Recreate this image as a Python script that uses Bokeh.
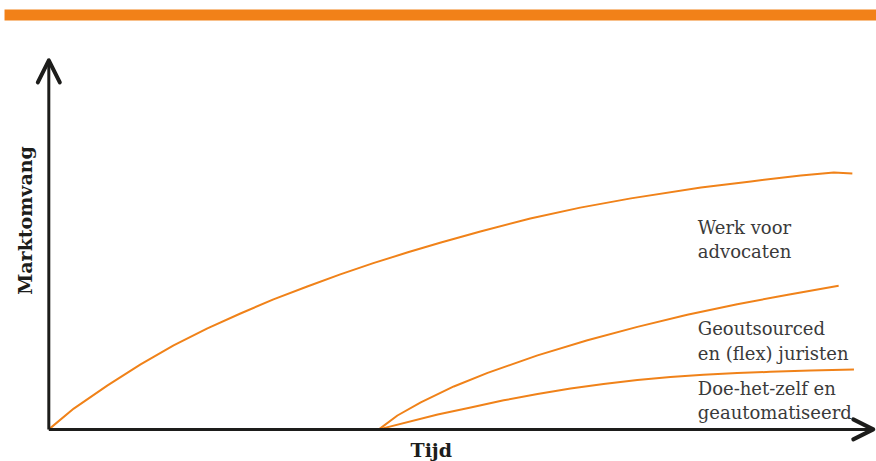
from bokeh.plotting import figure
from bokeh.models import Range1d, Arrow, OpenHead, BoxAnnotation
from bokeh.core.properties import value
from bokeh.embed import file_html
from bokeh.resources import INLINE

# Time (0-100) and market size (0-100) for each segment
werk_t = [0, 3.1, 7.3, 11.4, 15.5, 19.7, 23.8, 27.9, 32.1, 36.2, 40.3, 44.6, 48.7,
          53.6, 59.8, 66.0, 72.3, 81.0, 87.2, 93.4, 97.5, 99.8]
werk_y = [0, 8.1, 17.1, 25.3, 32.7, 39.3, 45.1, 50.6, 55.6, 60.3, 64.7, 68.9, 72.7,
          77.0, 82.1, 86.3, 89.9, 94.1, 96.5, 98.8, 100.0, 99.6]

flex_t = [41.0, 43.3, 46.2, 50.3, 54.5, 60.7, 66.9, 73.1, 79.3, 85.5, 91.8, 98.1]
flex_y = [0, 5.4, 10.5, 16.7, 22.0, 28.8, 34.7, 39.9, 44.6, 48.7, 52.4, 55.9]

dhz_t = [41.0, 48.3, 52.4, 56.5, 60.7, 64.8, 68.9, 73.1, 77.2, 81.3, 85.5, 89.6, 94.6, 100.0]
dhz_y = [0, 5.8, 8.5, 11.3, 13.8, 15.9, 17.7, 19.2, 20.4, 21.3, 21.9, 22.4, 22.9, 23.3]

label_lines = [
    ("Werk voor", 78.6), ("advocaten", 69.2),
    ("Geoutsourced", 39.3), ("en (flex) juristen", 29.6),
    ("Doe-het-zelf en", 15.9), ("geautomatiseerd", 6.6),
]
label_t = 80.6

ORANGE = "#F08219"
INK = "#1d1d1b"
TEXT = "#3a3a3a"

p = figure(width=876, height=461, output_backend="svg", toolbar_location=None,
           x_range=Range1d(-6, 102.8), y_range=Range1d(-12.5, 166.9),
           min_border=0, outline_line_color=None)
p.axis.visible = False
p.grid.visible = False

# header band
p.add_layout(BoxAnnotation(bottom=159.1, top=163.4, left=-5.5,
                           fill_color="#F28118", fill_alpha=1, line_color=None))

# axes with open arrow heads
p.add_layout(Arrow(end=OpenHead(size=22, line_width=4, line_color=INK, line_cap="round", line_join="round"),
                   x_start=0, y_start=0, x_end=0, y_end=143.6,
                   line_width=3, line_color=INK))
p.add_layout(Arrow(end=OpenHead(size=20, line_width=4, line_color=INK, line_cap="round", line_join="round"),
                   x_start=0, y_start=0, x_end=102.4, y_end=0,
                   line_width=3, line_color=INK))

# curves
for xs, ys in [(werk_t, werk_y), (flex_t, flex_y), (dhz_t, dhz_y)]:
    p.line(xs, ys, line_color=ORANGE, line_width=2, line_join="round")

# series labels
p.text(x=[label_t] * len(label_lines), y=[y for _, y in label_lines],
       text=[t for t, _ in label_lines], text_font=value("DejaVu Serif"),
       text_font_size="18px", text_color=TEXT, text_baseline="middle", text_align="left")

# axis titles
p.text(x=[-2.9], y=[81.3], text=["Marktomvang"], angle=1.5708,
       text_font=value("DejaVu Serif"), text_font_style="bold", text_font_size="19px",
       text_color=INK, text_align="center", text_baseline="middle")
p.text(x=[47.5], y=[-8.2], text=["Tijd"],
       text_font=value("DejaVu Serif"), text_font_style="bold", text_font_size="19px",
       text_color=INK, text_align="center", text_baseline="middle")

open("out.html", "w").write(file_html(p, INLINE))
